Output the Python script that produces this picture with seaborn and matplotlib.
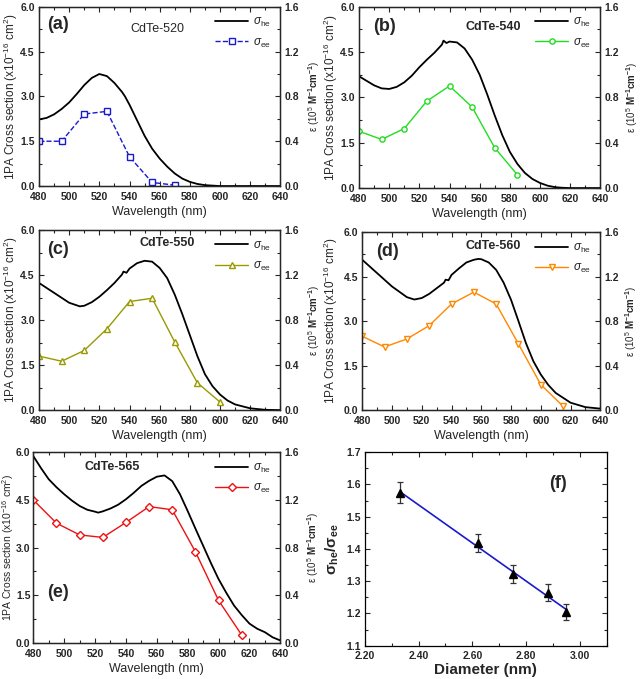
import numpy as np
import pandas as pd
import matplotlib
matplotlib.use("Agg")
import matplotlib.pyplot as plt
import seaborn as sns
from matplotlib.ticker import MultipleLocator, FormatStrFormatter

sns.set_theme(style="ticks")
plt.rcParams['font.family'] = ['Liberation Sans', 'DejaVu Sans']
plt.rcParams['mathtext.fontset'] = 'custom'
plt.rcParams['mathtext.rm'] = 'Liberation Sans'
plt.rcParams['mathtext.it'] = 'Liberation Sans:italic'
plt.rcParams['mathtext.bf'] = 'Liberation Sans:bold'

# ---------------- data ----------------
ee_wl = [480, 495, 510, 525, 540, 555, 570, 585, 600, 615]

he_a_wl = [480, 485, 490, 495, 500, 505, 510, 515, 520, 525, 530, 535, 537, 540, 545, 550, 555,
           560, 565, 570, 575, 580, 585, 590, 600, 640]
he_a = [2.23, 2.28, 2.40, 2.58, 2.80, 3.08, 3.38, 3.62, 3.75, 3.68, 3.45, 3.15, 3.00, 2.72, 2.20,
        1.68, 1.25, 0.92, 0.65, 0.42, 0.25, 0.14, 0.07, 0.03, 0.0, 0.0]
ee_a = [1.50, 1.50, 2.41, 2.50, 0.98, 0.12, 0.03]

he_b_wl = [480, 485, 490, 495, 500, 505, 510, 515, 520, 525, 530, 535, 536, 538, 540, 545, 550,
           555, 560, 565, 570, 575, 580, 585, 590, 595, 600, 605, 610, 615, 620, 640]
he_b = [3.70, 3.55, 3.40, 3.30, 3.28, 3.35, 3.50, 3.72, 4.00, 4.25, 4.48, 4.75, 4.88, 4.80, 4.85,
        4.82, 4.62, 4.25, 3.75, 3.10, 2.40, 1.75, 1.20, 0.80, 0.50, 0.30, 0.17, 0.08, 0.03, 0.01,
        0.0, 0.0]
ee_b = [1.88, 1.61, 1.97, 2.88, 3.38, 2.68, 1.33, 0.44]

he_c_wl = [480, 490, 500, 507, 510, 515, 520, 525, 530, 535, 536, 538, 540, 545, 550, 555, 560,
           565, 570, 575, 580, 585, 590, 595, 600, 605, 610, 620, 630, 640]
he_c = [4.24, 3.91, 3.58, 3.46, 3.48, 3.60, 3.78, 4.00, 4.24, 4.52, 4.62, 4.58, 4.72, 4.90, 4.98,
        4.95, 4.74, 4.40, 3.85, 3.20, 2.50, 1.80, 1.20, 0.80, 0.52, 0.32, 0.19, 0.06, 0.01, 0.0]
ee_c = [1.80, 1.63, 1.99, 2.71, 3.62, 3.73, 2.27, 0.91, 0.27]

he_d_wl = [480, 490, 500, 510, 515, 520, 525, 530, 535, 536, 538, 540, 545, 550, 555, 558, 560,
           565, 570, 575, 580, 585, 590, 595, 600, 605, 610, 620, 630, 640]
he_d = [5.07, 4.62, 4.17, 3.81, 3.73, 3.78, 3.92, 4.11, 4.30, 4.40, 4.38, 4.56, 4.78, 4.98, 5.07,
        5.10, 5.09, 4.98, 4.73, 4.30, 3.72, 3.00, 2.26, 1.65, 1.20, 0.85, 0.58, 0.25, 0.10, 0.05]
ee_d = [2.49, 2.13, 2.40, 2.85, 3.58, 3.98, 3.58, 2.23, 0.86, 0.13]

he_e_wl = [480, 485, 490, 495, 500, 505, 510, 515, 520, 522, 525, 530, 535, 540, 545, 550, 555,
           560, 565, 570, 575, 580, 585, 590, 595, 600, 605, 610, 615, 620, 625, 630, 635, 640]
he_e = [5.88, 5.50, 5.15, 4.90, 4.68, 4.48, 4.31, 4.19, 4.13, 4.10, 4.14, 4.23, 4.35, 4.52, 4.72,
        4.94, 5.10, 5.23, 5.27, 5.09, 4.68, 4.15, 3.60, 3.06, 2.52, 2.01, 1.58, 1.18, 0.88, 0.61,
        0.45, 0.34, 0.18, 0.08]
ee_e = [4.50, 3.77, 3.40, 3.32, 3.79, 4.29, 4.19, 2.87, 1.34, 0.25]

diam = [2.33, 2.62, 2.75, 2.88, 2.95]
ratio = [1.575, 1.418, 1.322, 1.265, 1.205]
ratio_err = [0.032, 0.028, 0.027, 0.025, 0.025]
fit_x = [2.33, 2.95]
fit_y = [1.578, 1.212]

panels = [
    dict(label="(a)", name="CdTe-520", wl=he_a_wl, he=he_a, ee=ee_a, color="#1a1acc", marker="s",
         ls="--", pos=[0.061, 0.726, 0.377, 0.264], bold=False, lab_xy=(0.035, 0.90),
         name_xy=(0.49, 0.877), ylx=-0.08, yrx=1.108, ylfs=8.5, ypad=3),
    dict(label="(b)", name="CdTe-540", wl=he_b_wl, he=he_b, ee=ee_b, color="#22dd22", marker="o",
         ls="-", pos=[0.561, 0.723, 0.377, 0.267], bold=True, lab_xy=(0.06, 0.89),
         name_xy=(0.556, 0.89), ylx=-0.08, yrx=1.098, ylfs=8.5, ypad=3),
    dict(label="(c)", name="CdTe-550", wl=he_c_wl, he=he_c, ee=ee_c, color="#999900", marker="^",
         ls="-", pos=[0.061, 0.396, 0.377, 0.265], bold=True, lab_xy=(0.035, 0.89),
         name_xy=(0.53, 0.93), ylx=-0.08, yrx=1.108, ylfs=8.5, ypad=3),
    dict(label="(d)", name="CdTe-560", wl=he_d_wl, he=he_d, ee=ee_d, color="#ff8800", marker="v",
         ls="-", pos=[0.566, 0.396, 0.372, 0.262], bold=True, lab_xy=(0.06, 0.89),
         name_xy=(0.55, 0.925), ylx=-0.092, yrx=1.098, ylfs=8.5, ypad=3),
    dict(label="(e)", name="CdTe-565", wl=he_e_wl, he=he_e, ee=ee_e, color="#ee1111", marker="D",
         ls="-", pos=[0.052, 0.053, 0.386, 0.281], bold=True, lab_xy=(0.055, 0.267),
         name_xy=(0.32, 0.92), ylx=-0.071, yrx=1.1, ylfs=7.5, ypad=2),
]

fig = plt.figure(figsize=(6.4, 6.79), dpi=100)
fig.patch.set_facecolor("white")

tick_fs = 7.5


def style_ticks(a, ypad=3, **kw):
    a.tick_params(which="both", direction="in", labelsize=tick_fs, **kw)
    a.tick_params(which="major", length=3.5, width=0.8)
    a.tick_params(which="minor", length=2, width=0.8)
    a.tick_params(axis="x", pad=4)
    a.tick_params(axis="y", pad=ypad)


for p in panels:
    ax = fig.add_axes(p["pos"])
    ax.set_facecolor("white")
    sns.lineplot(x=p["wl"], y=p["he"], ax=ax, color="black", lw=1.3, label=r"$\sigma_{\rm he}$",
                 sort=False, estimator=None)
    n = len(p["ee"])
    ms = 3.8 if p["marker"] != "D" else 3.6
    sns.lineplot(x=ee_wl[:n], y=p["ee"], ax=ax, color=p["color"], lw=1.0, linestyle=p["ls"],
                 marker=p["marker"], markersize=ms, markerfacecolor="white",
                 markeredgecolor=p["color"], markeredgewidth=1.0, label=r"$\sigma_{\rm ee}$",
                 sort=False, estimator=None)
    ax.set_xlim(480, 640)
    ax.set_ylim(0, 6.0)
    ax.xaxis.set_major_locator(MultipleLocator(20))
    ax.xaxis.set_minor_locator(MultipleLocator(10))
    ax.yaxis.set_major_locator(MultipleLocator(1.5))
    ax.yaxis.set_minor_locator(MultipleLocator(0.75))
    style_ticks(ax, ypad=p["ypad"], top=True, right=False)
    ax.yaxis.set_major_formatter(FormatStrFormatter("%.1f"))
    for t in ax.get_xticklabels() + ax.get_yticklabels():
        t.set_fontweight("bold")
    for s in ax.spines.values():
        s.set_linewidth(0.9)
        s.set_color("black")
    ax.set_xlabel("Wavelength (nm)", fontsize=9, labelpad=3)
    ax.set_ylabel(r"1PA Cross section (x10$^{-16}$ cm$^{2}$)", fontsize=p["ylfs"])
    ax.yaxis.set_label_coords(p["ylx"], 0.5)

    ax2 = ax.twinx()
    ax2.set_ylim(0, 1.6)
    ax2.yaxis.set_major_locator(MultipleLocator(0.4))
    ax2.yaxis.set_minor_locator(MultipleLocator(0.2))
    ax2.yaxis.set_major_formatter(FormatStrFormatter("%.1f"))
    style_ticks(ax2)
    for t in ax2.get_yticklabels():
        t.set_fontweight("bold")
    ax2.set_ylabel(r"ε (10$^{5}$ $\mathbf{M^{-1}cm^{-1}}$)", fontsize=7)
    ax2.yaxis.set_label_coords(p["yrx"], 0.5)
    for s in ax2.spines.values():
        s.set_linewidth(0.9)

    ax.text(p["lab_xy"][0], p["lab_xy"][1], p["label"], transform=ax.transAxes,
            fontsize=13, fontweight="bold", va="center", ha="left")
    ax.text(p["name_xy"][0], p["name_xy"][1], p["name"], transform=ax.transAxes,
            fontsize=9, fontweight="bold" if p["bold"] else "normal", ha="center", va="center")
    ax.legend(loc="upper right", frameon=False, fontsize=8.5, handlelength=2.8,
              borderaxespad=0.4, labelspacing=0.6, handletextpad=0.4)

# ---------------- panel (f) ----------------
axf = fig.add_axes([0.570, 0.049, 0.378, 0.285])
axf.set_facecolor("white")
sns.lineplot(x=fit_x, y=fit_y, ax=axf, color="#1a1acc", lw=1.2, sort=False, estimator=None)
axf.errorbar(diam, ratio, yerr=ratio_err, fmt="^", color="black", markersize=6,
             ecolor="#333333", elinewidth=0.9, capsize=2.5, capthick=0.9)
axf.set_xlim(2.2, 3.1)
axf.set_ylim(1.1, 1.7)
axf.xaxis.set_major_locator(MultipleLocator(0.2))
axf.xaxis.set_minor_locator(MultipleLocator(0.1))
axf.yaxis.set_major_locator(MultipleLocator(0.1))
axf.yaxis.set_minor_locator(MultipleLocator(0.05))
axf.xaxis.set_major_formatter(FormatStrFormatter("%.2f"))
axf.yaxis.set_major_formatter(FormatStrFormatter("%.1f"))
style_ticks(axf, top=True, right=True)
for t in axf.get_xticklabels() + axf.get_yticklabels():
    t.set_fontweight("bold")
for s in axf.spines.values():
    s.set_linewidth(0.9)
    s.set_color("black")
axf.set_xlabel("Diameter (nm)", fontsize=11, fontweight="bold", labelpad=1)
axf.set_ylabel(r"$\mathbf{\sigma_{he}/\sigma_{ee}}$", fontsize=11)
axf.yaxis.set_label_coords(-0.1, 0.5)
axf.text(0.8, 0.84, "(f)", transform=axf.transAxes, fontsize=13, fontweight="bold",
         ha="center", va="center")

fig.savefig("out.png", dpi=100, facecolor="white")
